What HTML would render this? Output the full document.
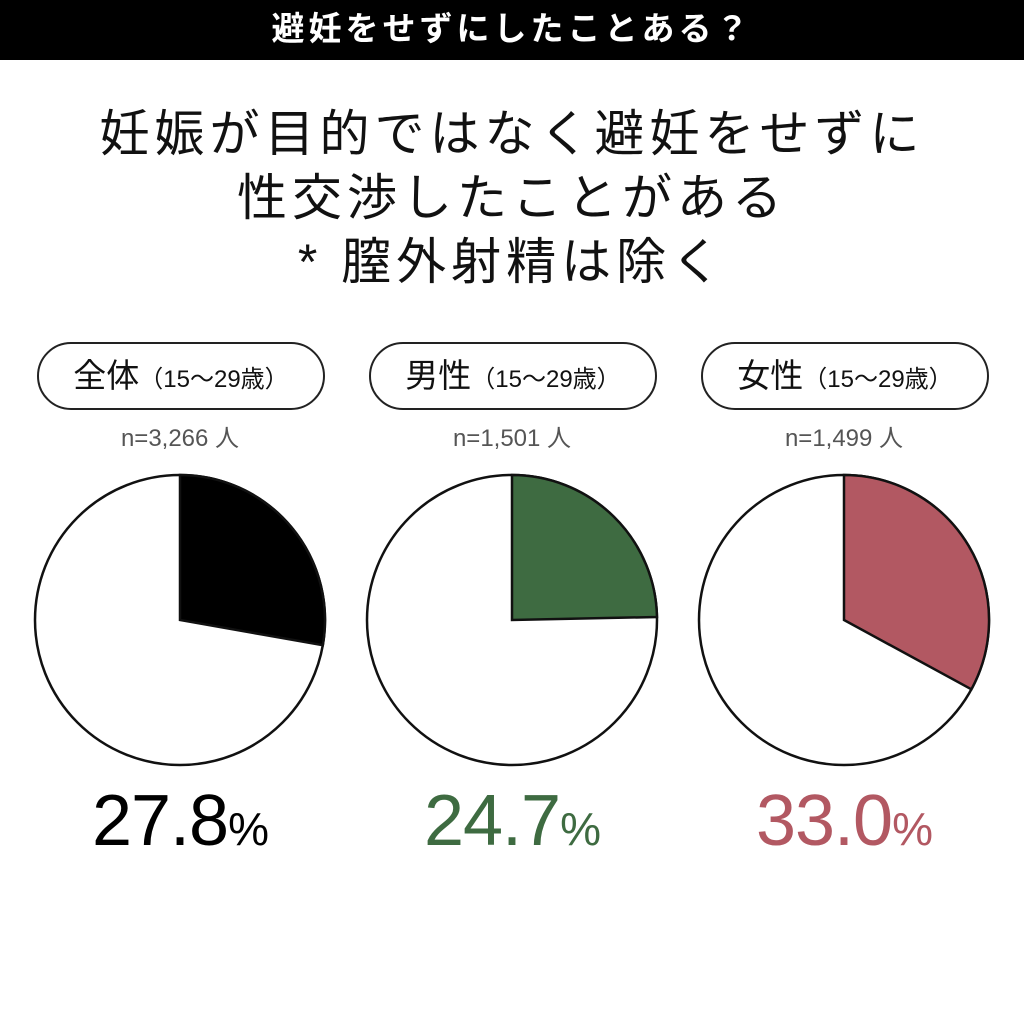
<!DOCTYPE html>
<html><head><meta charset="utf-8"><style>
body{margin:0;width:1024px;height:1024px;background:#fff;position:relative;overflow:hidden;font-family:"Liberation Sans","Noto Sans CJK JP",sans-serif}
.bar{position:absolute;left:0;top:0;width:1024px;height:60px;background:#000;color:#fff;text-align:center;font-size:33px;font-weight:bold;line-height:58px;letter-spacing:4px}
.t{position:absolute;left:0;width:1024px;text-align:center;font-size:50px;color:#111;letter-spacing:5px}
.pill{position:absolute;top:342px;width:284px;height:64px;border:2px solid #222;border-radius:34px;text-align:center;line-height:64px;font-size:33px;color:#111}
.pill small{font-size:24px}
.n{position:absolute;top:418px;width:290px;text-align:center;font-size:24px;color:#555}
.p{position:absolute;top:780px;width:330px;text-align:center;font-size:72px;letter-spacing:-1px}
.p span{font-size:46px}
</style></head><body>
<div class="bar">避妊をせずにしたことある？</div>
<div class="t" style="top:94px">妊娠が目的ではなく避妊をせずに</div>
<div class="t" style="top:158px">性交渉したことがある</div>
<div class="t" style="top:222px">* 膣外射精は除く</div>
<div class="pill" style="left:37px">全体<small>（15〜29歳）</small></div>
<div class="pill" style="left:369px">男性<small>（15〜29歳）</small></div>
<div class="pill" style="left:701px">女性<small>（15〜29歳）</small></div>
<div class="n" style="left:35px">n=3,266 人</div>
<div class="n" style="left:367px">n=1,501 人</div>
<div class="n" style="left:699px">n=1,499 人</div>
<svg width="1024" height="1024" style="position:absolute;left:0;top:0">
<g stroke="#111" stroke-width="2.5">
<circle cx="180" cy="620" r="145" fill="#fff"/>
<path d="M180 620 L180 475 A145 145 0 0 1 322.8 645.2 Z" fill="#000"/>
<circle cx="512" cy="620" r="145" fill="#fff"/>
<path d="M512 620 L512 475 A145 145 0 0 1 657 617 Z" fill="#3e6b41"/>
<circle cx="844" cy="620" r="145" fill="#fff"/>
<path d="M844 620 L844 475 A145 145 0 0 1 971.4 689.3 Z" fill="#b25862"/>
</g></svg>
<div class="p" style="left:15px;color:#000">27.8<span>%</span></div>
<div class="p" style="left:347px;color:#3e6b41">24.7<span>%</span></div>
<div class="p" style="left:679px;color:#b25862">33.0<span>%</span></div>
</body></html>
